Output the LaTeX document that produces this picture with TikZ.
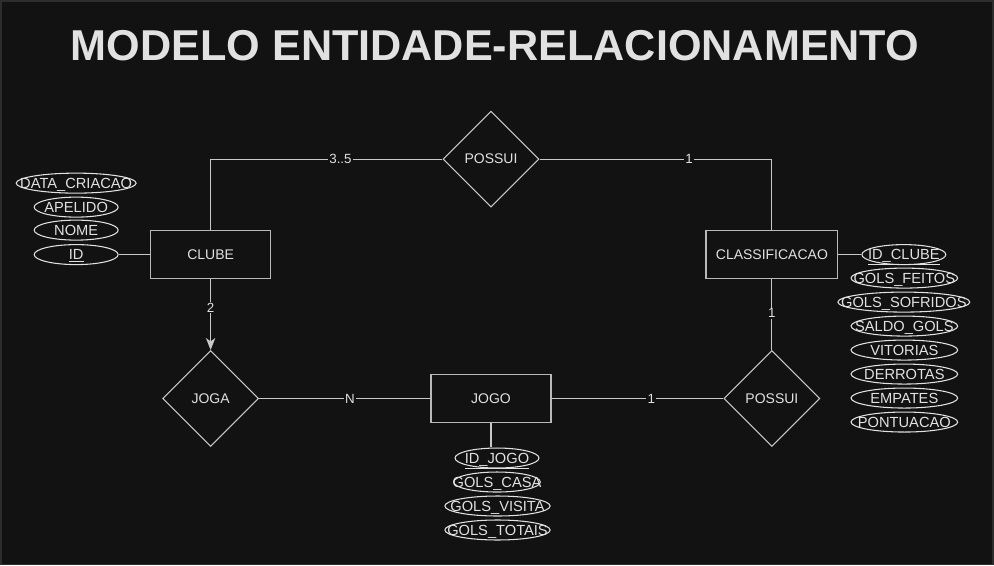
\documentclass[tikz,border=0pt]{standalone}
\usepackage{fontspec}
\setmainfont{Liberation Sans}
\usetikzlibrary{shapes.geometric,arrows.meta}
\definecolor{bg}{RGB}{18,18,18}
\definecolor{frame}{RGB}{45,45,45}
\definecolor{ln}{RGB}{200,200,200}
\definecolor{bx}{RGB}{185,185,185}
\definecolor{tx}{RGB}{225,225,225}
\tikzset{
  entity/.style={draw=bx, line width=0.9pt, minimum width=90pt, minimum height=36pt, inner sep=0pt, text=tx, font=\fontsize{10.5}{11}\selectfont},
  rel/.style={draw=ln, diamond, line width=0.8pt, minimum width=72pt, minimum height=72pt, inner sep=0pt, text=tx, font=\fontsize{10.5}{11}\selectfont},
  attr/.style={draw=tx, ellipse, line width=0.8pt, minimum height=15pt, inner sep=0pt},
  attrtext/.style={text=tx, inner sep=0pt, text height=7.9pt, text depth=0pt, font=\fontsize{11}{12}\selectfont},
  conn/.style={draw=ln, line width=0.8pt},
  card/.style={fill=bg, text=tx, inner sep=0.8pt, font=\fontsize{10}{11}\selectfont},
}
\newcommand{\attrnode}[5]{\node[attr, minimum width=#4pt, label={[attrtext]center:#5}] (#1) at (#2,#3) {};}
\begin{document}
\begin{tikzpicture}[x=0.75pt,y=-0.75pt]
\fill[bg] (0,0) rectangle (994,565);
\draw[frame, line width=1.2pt] (0.6,0.6) rectangle (993.4,564.4);
\useasboundingbox (0,0) rectangle (994,565);

\node[text=tx, font=\fontsize{32.4}{35}\selectfont\bfseries] (title) at (495,45) {MODELO ENTIDADE-RELACIONAMENTO};

% entities
\node[entity] (clube) at (210.5,254.5) {CLUBE};
\node[entity, minimum width=99pt] (class) at (772,254.5) {CLASSIFICACAO};
\node[entity] (jogo) at (491,398.5) {JOGO};

% relationships
\node[rel] (possui1) at (491,159) {POSSUI};
\node[rel] (joga) at (210.5,398.5) {JOGA};
\node[rel] (possui2) at (772,398.5) {POSSUI};

% attributes of CLUBE
\attrnode{dcri}{76}{183}{90}{DATA\_CRIACAO}
\attrnode{apel}{76}{207}{63}{APELIDO}
\attrnode{nome}{76}{230}{63}{NOME}
\attrnode{id}{76}{254.5}{63}{\underline{ID}}

% attributes of CLASSIFICACAO
\attrnode{idc}{904}{254.5}{63}{\underline{ID\_CLUBE}}
\attrnode{gf}{904.5}{278}{80}{GOLS\_FEITOS}
\attrnode{gs}{904}{302}{99}{GOLS\_SOFRIDOS}
\attrnode{sg}{904.5}{326}{80}{SALDO\_GOLS}
\attrnode{vit}{904.5}{350}{80}{VITORIAS}
\attrnode{der}{904.5}{374}{80}{DERROTAS}
\attrnode{emp}{904.5}{398}{80}{EMPATES}
\attrnode{pon}{904.5}{422}{80}{PONTUACAO}

% attributes of JOGO
\attrnode{idj}{497}{458}{63}{\underline{ID\_JOGO}}
\attrnode{gc}{497}{482}{65}{GOLS\_CASA}
\attrnode{gv}{497.5}{506}{79}{GOLS\_VISITA}
\attrnode{gt}{497.5}{530}{79}{GOLS\_TOTAIS}

% connectors
\draw[conn] (clube.north) |- node[card, pos=0.78] {3..5} (possui1.west);
\draw[conn] (possui1.east) -| node[card, pos=0.322] {1} (class.north);
\draw[conn, -{Stealth[length=9pt,width=7pt,inset=2.5pt]}] (clube.south) -- node[card, pos=0.4] {2} (joga.north);
\draw[conn] (joga.east) -- node[card, pos=0.53] {N} (jogo.west);
\draw[conn] (jogo.east) -- node[card, pos=0.58] {1} (possui2.west);
\draw[conn] (class.south) -- node[card, pos=0.48] {1} (possui2.north);
\draw[conn] (clube.west) -- (id.east);
\draw[conn] (class.east) -- (idc.west);
\draw[conn] (jogo.south) -- (jogo.south |- idj.north);
\end{tikzpicture}
\end{document}
